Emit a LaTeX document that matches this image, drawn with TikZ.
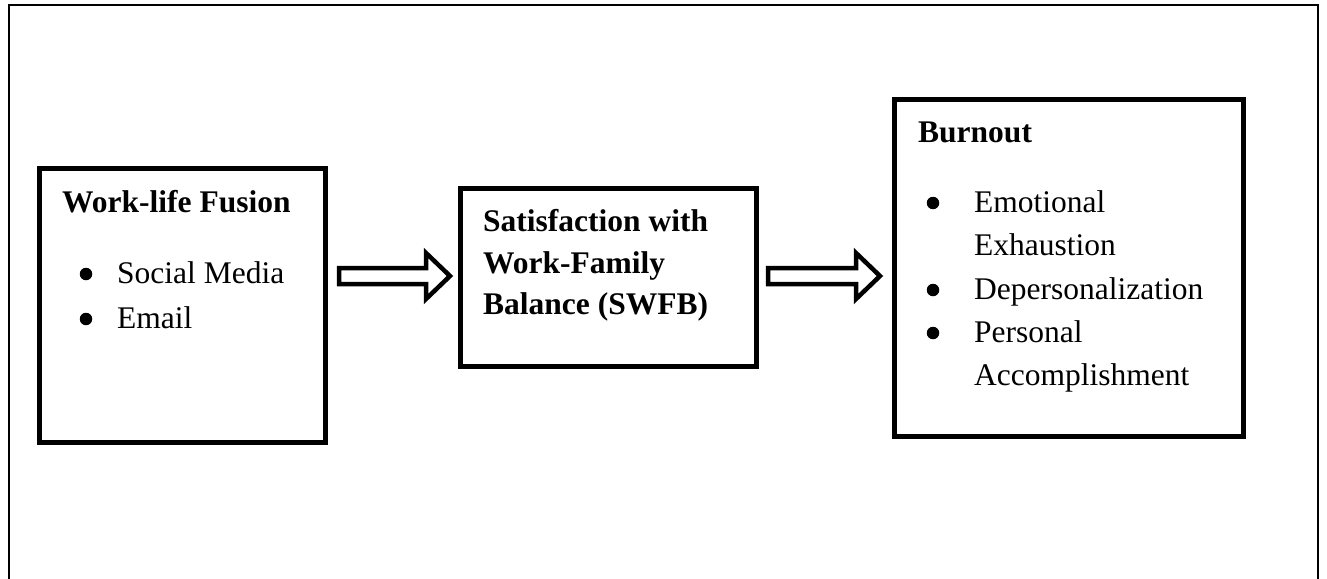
\documentclass[tikz,border=0pt]{standalone}
\usepackage{fontspec}
\setmainfont{Liberation Serif}
\usetikzlibrary{calc}
\tikzset{
  box/.style={draw=black, line width=5pt, inner sep=0pt},
  frameline/.style={draw=black, line width=2pt},
  blockarr/.style={draw=black, line width=4.5pt, fill=white, line join=miter, miter limit=10},
  title/.style={anchor=base west, inner sep=0pt, font=\fontsize{31.5}{40}\selectfont\bfseries},
  item/.style={anchor=base west, inner sep=0pt, font=\fontsize{31.5}{40}\selectfont},
  bul/.style={circle, fill=black, inner sep=0pt, minimum size=12.5pt},
}
\begin{document}
\begin{tikzpicture}[x=1pt,y=-1pt]
\useasboundingbox (0,0) rectangle (1327,578);
% outer frame (open at bottom)
\coordinate (fbl) at (9,580);
\coordinate (ftl) at (9,5);
\coordinate (ftr) at (1318,5);
\coordinate (fbr) at (1318,580);
\draw[frameline] (fbl) -- (ftl) -- (ftr) -- (fbr);
% boxes
\node[box, minimum width=286pt, minimum height=274pt] (b1) at (182.5,305.5) {};
\node[box, minimum width=296pt, minimum height=178pt] (b2) at (608.5,277.5) {};
\node[box, minimum width=349pt, minimum height=337pt] (b3) at (1069,268) {};
% box 1 text
\node[title] (t1) at (62,212) {Work-life Fusion};
\node[bul] (b1a) at (86,274) {};
\node[item] (i1a) at (117,283) {Social Media};
\node[bul] (b1b) at (86,319) {};
\node[item] (i1b) at (117,328) {Email};
% box 2 text
\node[title] (t2a) at (483,231) {Satisfaction with};
\node[title] (t2b) at (483,273) {Work-Family};
\node[title] (t2c) at (483,314) {Balance (SWFB)};
% box 3 text
\node[title] (t3) at (918,142) {Burnout};
\node[bul] (b3a) at (933,203) {};
\node[item] (i3a) at (974,212) {Emotional};
\node[item] (i3b) at (974,255) {Exhaustion};
\node[bul] (b3c) at (933,290) {};
\node[item] (i3c) at (974,299) {Depersonalization};
\node[bul] (b3d) at (933,333) {};
\node[item] (i3d) at (974,342) {Personal};
\node[item] (i3e) at (974,385) {Accomplishment};
% block arrows
\coordinate (a1s) at (339,276);
\coordinate (a1e) at (450,276);
\coordinate (a2s) at (768,276);
\coordinate (a2e) at (880,276);
\foreach \s/\e in {a1s/a1e, a2s/a2e}{
  \draw[blockarr] ($(\s)+(0,-8)$) -- ($(\e)+(-24,-8)$) -- ($(\e)+(-24,-23)$) -- (\e)
    -- ($(\e)+(-24,23)$) -- ($(\e)+(-24,8)$) -- ($(\s)+(0,8)$) -- cycle;
}
\end{tikzpicture}
\end{document}
